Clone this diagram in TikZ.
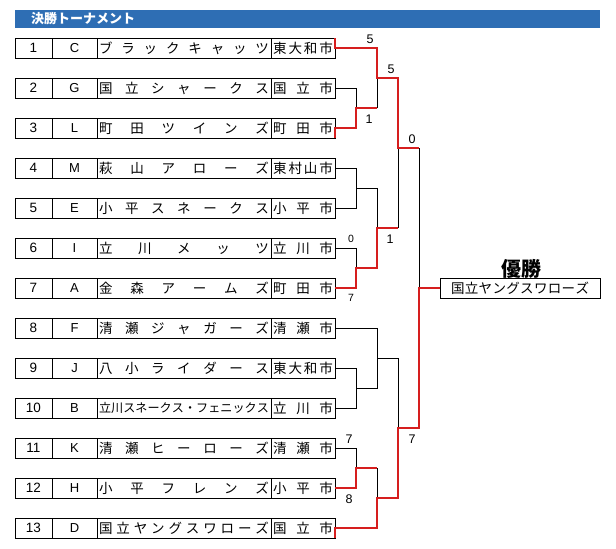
\documentclass[tikz,border=0pt]{standalone}
\usepackage{fontspec}
\newfontfamily\jp{Noto Sans CJK JP}
\newfontfamily\lat{Liberation Sans}
\definecolor{hdrblue}{RGB}{46,110,180}
\definecolor{winred}{RGB}{214,30,30}
\newcommand\distr[2]{\makebox[#1][s]{\expandafter\distrloop#2\distrend}}
\def\distrloop#1#2\distrend{#1\ifx\relax#2\relax\else\hfill\distrloop#2\distrend\fi}
\begin{document}
\begin{tikzpicture}[x=1pt,y=-1pt,
  cell/.style={draw, line width=0.9pt, minimum height=20pt, inner sep=0pt, outer sep=0pt},
  numcell/.style={cell, minimum width=37pt, font=\lat\fontsize{13.5}{15}\selectfont},
  letcell/.style={cell, minimum width=45pt, font=\lat\fontsize{13}{15}\selectfont},
  namecell/.style={cell, minimum width=174pt},
  citycell/.style={cell, minimum width=64pt, font=\jp\fontsize{13.5}{15}\selectfont},
  wincell/.style={cell, minimum width=160pt, font=\jp\fontsize{13.5}{15}\selectfont},
  lose/.style={draw=black, line width=0.9pt},
  win/.style={draw=winred, line width=2.4pt},
  score/.style={font=\lat\fontsize{12.5}{14}\selectfont, inner sep=0pt},
  smallscore/.style={font=\lat\fontsize{10.5}{12}\selectfont, inner sep=0pt}
]
\useasboundingbox (0,0) rectangle (616,549);
\fill[white] (0,0) rectangle (616,549);
% header
\node[fill=hdrblue, minimum width=585pt, minimum height=18pt, inner sep=0pt, anchor=north west] (hdr) at (15,10) {};
\node[anchor=west, text=white, font=\jp\bfseries\fontsize{13}{15}\selectfont, inner sep=0pt] (hdrtext) at (31,19) {決勝トーナメント};
% rows
\foreach \i/\L/\N/\C/\s in {
  1/C/ブラックキャッツ/東大和市/13.5,
  2/G/国立シャークス/国立市/13.5,
  3/L/町田ツインズ/町田市/13.5,
  4/M/萩山アローズ/東村山市/13.5,
  5/E/小平スネークス/小平市/13.5,
  6/I/立川メッツ/立川市/13.5,
  7/A/金森アームズ/町田市/13.5,
  8/F/清瀬ジャガーズ/清瀬市/13.5,
  9/J/八小ライダース/東大和市/13.5,
  10/B/立川スネークス・フェニックス/立川市/12.1,
  11/K/清瀬ヒーローズ/清瀬市/13.5,
  12/H/小平フレンズ/小平市/13.5,
  13/D/国立ヤングスワローズ/国立市/13.5}{
  \pgfmathsetmacro\yy{48+40*(\i-1)}
  \node[numcell] (n\i) at (33.5,\yy) {\i};
  \node[letcell] (l\i) at (74.5,\yy) {\L};
  \node[namecell, font=\jp\fontsize{\s}{15}\selectfont] (t\i) at (184,\yy) {\distr{170pt}{\N}};
  \node[citycell] (c\i) at (303,\yy) {\distr{60pt}{\C}};
}
% winner
\node[wincell] (w) at (520,288) {\distr{138pt}{国立ヤングスワローズ}};
\node[font=\jp\bfseries\fontsize{20}{22}\selectfont, inner sep=0pt] (champ) at (521,269) {優勝};
% junction coordinates
\coordinate (a1) at (377,48);
\coordinate (a2) at (377,78);
\coordinate (a3) at (398,78);
\coordinate (a4) at (398,148);
\coordinate (a5) at (419,148);
\coordinate (f1) at (419,288);
% top half
\draw[lose] (c2.east) -- (356,88) -- (356,108);
\draw[lose] (377,108) -- (a2);
\draw[lose] (c4.east) -- (356,168) -- (356,208) -- (c5.east);
\draw[lose] (356,188) -- (377,188) -- (377,228);
\draw[lose] (c6.east) -- (356,248) -- (356,268);
\draw[lose] (398,228) -- (a4);
\draw[lose] (a5) -- (f1);
% bottom half
\draw[lose] (c8.east) -- (377,328) -- (377,388) -- (356,388);
\draw[lose] (c9.east) -- (356,368) -- (356,408) -- (c10.east);
\draw[lose] (377,358) -- (398,358) -- (398,428);
\draw[lose] (c11.east) -- (356,448) -- (356,468);
\draw[lose] (377,468) -- (377,498);
% winning paths
\draw[win] (c1.north east) -- (c1.east) -- (a1) -- (a2) -- (a3) -- (a4) -- (a5);
\draw[win] (c3.south east) -- (c3.east) -- (356,128) -- (356,108) -- (377,108);
\draw[win] (c7.east) -- (356,288) -- (356,268) -- (377,268) -- (377,228) -- (398,228);
\draw[win] (c12.east) -- (356,488) -- (356,468) -- (377,468);
\draw[win] (c13.south east) -- (c13.east) -- (377,528) -- (377,498) -- (398,498) -- (398,428) -- (419,428) -- (f1) -- (w.west);
% scores
\node[score] (s1) at (370,39) {5};
\node[score] (s2) at (391,69) {5};
\node[score] (s3) at (369,119) {1};
\node[score] (s4) at (412,139) {0};
\node[score] (s5) at (390,239) {1};
\node[smallscore] (s6) at (351,239) {0};
\node[smallscore] (s7) at (351,298) {7};
\node[score] (s8) at (349,439) {7};
\node[score] (s9) at (349,499) {8};
\node[score] (s10) at (412,439) {7};
\end{tikzpicture}
\end{document}
